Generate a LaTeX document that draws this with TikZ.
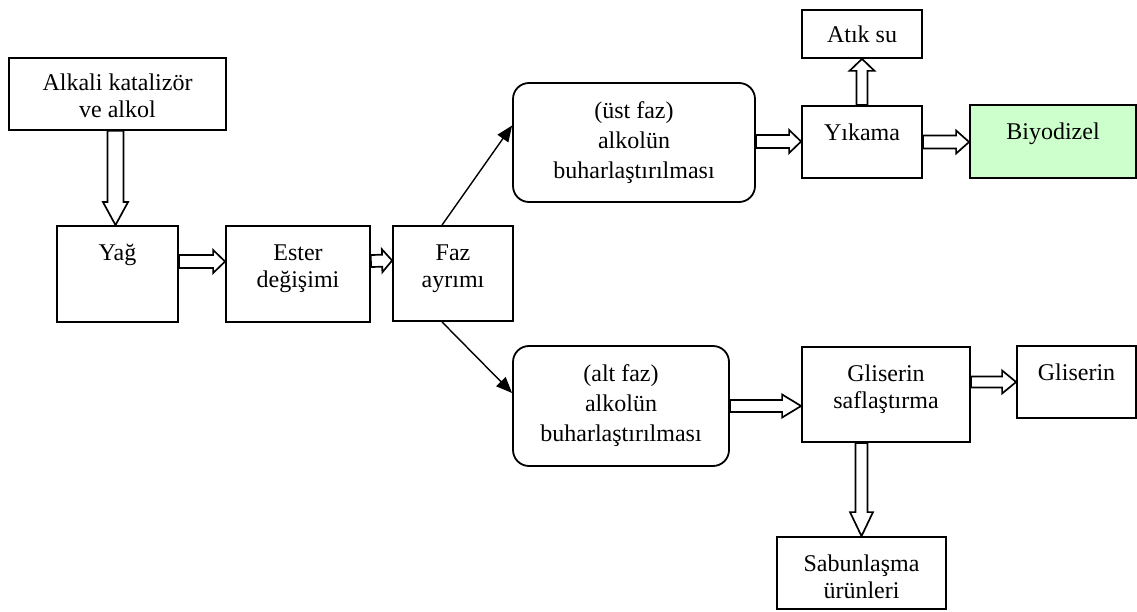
\documentclass[tikz,border=0pt]{standalone}
\usepackage{fontspec}
\setmainfont{Liberation Serif}
\usetikzlibrary{arrows.meta,calc}
\definecolor{biyoGreen}{HTML}{CCFFCC}

\begin{document}
\begin{tikzpicture}[x=1pt,y=-1pt,>=Latex,line join=miter]
\useasboundingbox (0,0) rectangle (1137,612);
\tikzset{stage/.style={draw=black,line width=1.8pt,fill=white,inner sep=0pt},roundstage/.style={stage,rounded corners=16pt},
 boxtext/.style={anchor=north,yshift=-19pt,inner sep=0pt,align=center,font=\fontsize{24pt}{27pt}\selectfont},
 roundtext/.style={boxtext,font=\fontsize{24pt}{30pt}\selectfont},
 flow/.style={draw=black,line width=1.4pt,-{Triangle[length=16pt,width=13pt]}},
 hollow/.style n args={3}{draw=black,line width=1.7pt,to path={let \p1=($(\tikztotarget)!#3pt!(\tikztostart)$) in
  ($(\tikztostart)!#1pt!90:(\tikztotarget)$) -- ($(\p1)!#1pt!90:(\tikztotarget)$) -- ($(\p1)!#2pt!90:(\tikztotarget)$) -- (\tikztotarget)
  -- ($(\p1)!#2pt!-90:(\tikztotarget)$) -- ($(\p1)!#1pt!-90:(\tikztotarget)$) -- ($(\tikztostart)!#1pt!-90:(\tikztotarget)$) -- cycle}}}
% left column
\node[stage,minimum width=217pt,minimum height=72pt,label={[boxtext,yshift=2pt]north:Alkali katalizör\\ve alkol}] (alkali) at (117.5,94) {};
\node[stage,minimum width=121pt,minimum height=96pt,label={[boxtext]north:Yağ}] (yag) at (117.5,274) {};
\node[stage,minimum width=144pt,minimum height=96pt,label={[boxtext]north:Ester\\değişimi}] (ester) at (298,274) {};
\node[stage,minimum width=120pt,minimum height=95pt,label={[boxtext]north:Faz\\ayrımı}] (faz) at (453,273.5) {};
% upper branch
\node[roundstage,minimum width=242pt,minimum height=119pt,label={[roundtext]north:(üst faz)\\alkolün\\buharlaştırılması}] (ust) at (634,142.5) {};
\node[stage,minimum width=120pt,minimum height=72pt,label={[boxtext]north:Yıkama}] (yikama) at (862,142) {};
\node[stage,minimum width=120pt,minimum height=48pt,label={[boxtext,yshift=2pt]north:Atık su}] (atik) at (862,34) {};
\node[stage,fill=biyoGreen,minimum width=166pt,minimum height=73pt,label={[boxtext]north:Biyodizel}] (biyo) at (1053,141.5) {};
% lower branch
\node[roundstage,minimum width=216pt,minimum height=120pt,label={[roundtext]north:(alt faz)\\alkolün\\buharlaştırılması}] (alt) at (621,406) {};
\node[stage,minimum width=168pt,minimum height=95pt,label={[boxtext]north:Gliserin\\saflaştırma}] (glisaf) at (886,394.5) {};
\node[stage,minimum width=119pt,minimum height=72pt,label={[boxtext]north:Gliserin}] (gli) at (1076.5,382) {};
\node[stage,minimum width=169pt,minimum height=72pt,label={[boxtext]north:Sabunlaşma\\ürünleri}] (sabun) at (861.5,573) {};
% block arrows
\draw[hollow={8}{12.5}{23}] ([xshift=-2pt]alkali.south) to ([xshift=-2pt]yag.north);
\draw[hollow={6.5}{11.5}{12}] ([yshift=12.5pt]yag.east) to ([yshift=12.5pt]ester.west);
\draw[hollow={6}{11.5}{10}] ([yshift=13pt]ester.east) to ([yshift=13pt]faz.west);
\draw[hollow={6.5}{11.5}{12}] ([yshift=1pt]ust.east) to ([yshift=1pt]ust.east -| yikama.west);
\draw[hollow={5.5}{12.5}{12}] (yikama.north) to (atik.south);
\draw[hollow={6.5}{11.5}{13}] (yikama.east) to (yikama.east -| biyo.west);
\draw[hollow={6}{11.5}{19}] (alt.east) to (alt.east -| glisaf.west);
\draw[hollow={5.5}{11.5}{14}] (glisaf.east |- gli.west) to (gli.west);
\draw[hollow={6}{11.5}{24}] (sabun.north |- glisaf.south) to (sabun.north);
% phase split
\draw[flow] ([xshift=-11pt]faz.north) -- ([yshift=17pt]ust.west);
\draw[flow] ([xshift=-11pt]faz.south) -- ([yshift=13pt]alt.west);
\end{tikzpicture}
\end{document}
